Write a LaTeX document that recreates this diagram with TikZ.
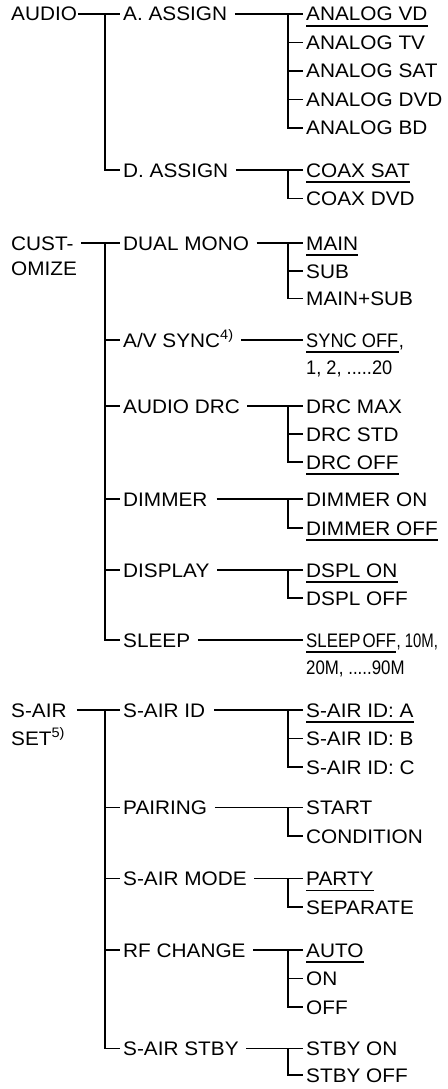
\documentclass[tikz,border=0pt]{standalone}
\usepackage{fontspec}
\setmainfont{Liberation Sans}[FakeStretch=1.06]
\newfontfamily\condA{Liberation Sans}[FakeStretch=0.93]
\newfontfamily\condB{Liberation Sans}[FakeStretch=0.86]
\newfontfamily\condC{Liberation Sans}[FakeStretch=0.76]
\tikzset{
  txt/.style={anchor=west, inner sep=0pt, text height=14pt, text depth=0pt, font=\fontsize{19.6}{23}\selectfont},
  conn/.style={line width=1.8pt, shorten <=7.5pt, shorten >=3pt},
  branch/.style={line width=1.8pt, shorten >=3pt},
  uline/.style={line width=1.4pt},
}
\newcommand{\ul}[1]{\draw[uline] ([yshift=-4.7pt]#1.south west) -- ([yshift=-4.7pt]#1.south east);}
\begin{document}
\begin{tikzpicture}[x=1pt,y=-1pt]
\useasboundingbox (0,0) rectangle (447,1089);
% ---------------- AUDIO ----------------
\node[txt] (audio) at (11,14) {AUDIO};
\node[txt] (aas) at (123,14) {A. ASSIGN};
\node[txt] (das) at (123,170) {D. ASSIGN};
\node[txt] (avd) at (306,14) {ANALOG VD};
\node[txt] (atv) at (306,42.5) {ANALOG TV};
\node[txt] (asat) at (306,71) {ANALOG SAT};
\node[txt] (advd) at (306,99.5) {ANALOG DVD};
\node[txt] (abd) at (306,128) {ANALOG BD};
\node[txt] (csat) at (306,170) {COAX SAT};
\node[txt] (cdvd) at (306,198.5) {COAX DVD};
\ul{avd} \ul{csat}
\coordinate (jA) at (105,14);
\coordinate (jAA) at (288,14);
\coordinate (jDA) at (288,170);
\draw[conn, shorten <=1pt] (audio.east) -- (aas.west);
\draw[branch] (jA) |- (das.west);
\draw[conn] (aas.east) -- (avd.west);
\foreach \n in {atv,asat,advd,abd} \draw[branch] (jAA) |- (\n.west);
\draw[conn] (das.east) -- (csat.west);
\draw[branch] (jDA) |- (cdvd.west);
% ---------------- CUSTOMIZE ----------------
\node[txt] (cust) at (11,243) {CUST-};
\node[txt] (omize) at (11,268.5) {OMIZE};
\node[txt] (dual) at (123,243) {DUAL MONO};
\node[txt] (avs) at (123,340) {A/V SYNC\textsuperscript{4)}};
\node[txt] (adrc) at (123,406) {AUDIO DRC};
\node[txt] (dim) at (123,499) {DIMMER};
\node[txt] (disp) at (123,570) {DISPLAY};
\node[txt] (sleep) at (123,640) {SLEEP};
\node[txt] (main) at (306,243) {MAIN};
\node[txt] (sub) at (306,271) {SUB};
\node[txt] (msub) at (306,298.5) {MAIN+SUB};
\node[txt] (soff) at (306,340) {\condA SYNC OFF};
\node[txt] (soffc) at (soff.east) {\condA ,};
\node[txt] (snum) at (306,367) {\condA 1, 2, .....20};
\node[txt] (dmax) at (306,406) {DRC MAX};
\node[txt] (dstd) at (306,434) {DRC STD};
\node[txt] (doff) at (306,462) {DRC OFF};
\node[txt] (dimon) at (306,499) {DIMMER ON};
\node[txt] (dimoff) at (306,528) {DIMMER OFF};
\node[txt] (dspon) at (306,570) {DSPL ON};
\node[txt] (dspoff) at (306,598) {DSPL OFF};
\node[txt] (sloff) at (306,640) {\condB SLEEP\kern2pt OFF};
\node[txt] (sloffb) at (sloff.east) {\condC , 10M,};
\node[txt] (slnum) at (306,667) {\condB 20M, .....90M};
\ul{main} \ul{soff} \ul{doff} \ul{dimoff} \ul{dspon} \ul{sloff}
\coordinate (jC) at (105,243);
\coordinate (jDM) at (288,243);
\coordinate (jDRC) at (288,406);
\coordinate (jDIM) at (288,499);
\coordinate (jDSP) at (288,570);
\draw[conn] (cust.east) -- (dual.west);
\foreach \n in {avs,adrc,dim,disp,sleep} \draw[branch] (jC) |- (\n.west);
\draw[conn] (dual.east) -- (main.west);
\foreach \n in {sub,msub} \draw[branch] (jDM) |- (\n.west);
\draw[conn] (avs.east) -- (soff.west);
\draw[conn] (adrc.east) -- (dmax.west);
\foreach \n in {dstd,doff} \draw[branch] (jDRC) |- (\n.west);
\draw[conn, shorten <=9pt] (dim.east) -- (dimon.west);
\draw[branch] (jDIM) |- (dimoff.west);
\draw[conn] (disp.east) -- (dspon.west);
\draw[branch] (jDSP) |- (dspoff.west);
\draw[conn] (sleep.east) -- (sloff.west);
% ---------------- S-AIR SET ----------------
\node[txt] (sair) at (11,710) {S-AIR};
\node[txt] (sset) at (11,738.5) {SET\textsuperscript{5)}};
\node[txt] (sid) at (123,710) {S-AIR ID};
\node[txt] (pair) at (123,807.5) {PAIRING};
\node[txt] (smode) at (123,878.5) {S-AIR MODE};
\node[txt] (rf) at (123,950) {RF CHANGE};
\node[txt] (stby) at (123,1048.5) {S-AIR STBY};
\node[txt] (ida) at (306,710) {S-AIR ID: A};
\node[txt] (idb) at (306,738.5) {S-AIR ID: B};
\node[txt] (idc) at (306,767) {S-AIR ID: C};
\node[txt] (start) at (306,807.5) {START};
\node[txt] (cond) at (306,836) {CONDITION};
\node[txt] (party) at (306,878.5) {PARTY};
\node[txt] (sep) at (306,907) {SEPARATE};
\node[txt] (auto) at (306,950) {AUTO};
\node[txt] (on) at (306,978.5) {ON};
\node[txt] (off) at (306,1007) {OFF};
\node[txt] (ston) at (306,1048.5) {STBY ON};
\node[txt] (stoff) at (306,1075) {STBY OFF};
\ul{ida} \ul{party} \ul{auto}
\coordinate (jS) at (105,710);
\coordinate (jID) at (288,710);
\coordinate (jPR) at (288,807.5);
\coordinate (jSM) at (288,878.5);
\coordinate (jRF) at (288,950);
\coordinate (jSB) at (288,1048.5);
\draw[conn, shorten <=10pt] (sair.east) -- (sid.west);
\foreach \n in {pair,smode,rf,stby} \draw[branch] (jS) |- (\n.west);
\draw[conn, shorten <=9pt] (sid.east) -- (ida.west);
\foreach \n in {idb,idc} \draw[branch] (jID) |- (\n.west);
\draw[conn] (pair.east) -- (start.west);
\draw[branch] (jPR) |- (cond.west);
\draw[conn] (smode.east) -- (party.west);
\draw[branch] (jSM) |- (sep.west);
\draw[conn] (rf.east) -- (auto.west);
\foreach \n in {on,off} \draw[branch] (jRF) |- (\n.west);
\draw[conn] (stby.east) -- (ston.west);
\draw[branch] (jSB) |- (stoff.west);
\end{tikzpicture}
\end{document}
